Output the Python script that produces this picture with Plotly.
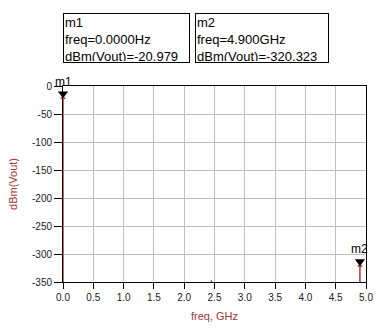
import plotly.graph_objects as go

# ---- data ----
freq_ghz = [0.0, 2.45, 4.9]
dbm_vout = [-20.979, -347.0, -320.323]
floor_dbm = -350

x_tick_vals = [0.0, 0.5, 1.0, 1.5, 2.0, 2.5, 3.0, 3.5, 4.0, 4.5, 5.0]
x_tick_text = ["0.0", "0.5", "1.0", "1.5", "2.0", "2.5", "3.0", "3.5", "4.0", "4.5", "5.0"]
y_tick_vals = [0, -50, -100, -150, -200, -250, -300, -350]
y_tick_text = ["0", "-50", "-100", "-150", "-200", "-250", "-300", "-350"]

marker_names = ["m1", "m2"]
marker_freq = [0.0, 4.9]
marker_val = [-20.979, -320.323]
marker_freq_text = ["freq=0.0000Hz", "freq=4.900GHz"]
marker_val_text = ["dBm(Vout)=-20.979", "dBm(Vout)=-320.323"]

RED = "#b03434"
TITLE_RED = "#a03535"
FONT = "Arial, Liberation Sans, sans-serif"

# spectral lines from the floor up to each value
xs, ys = [], []
for f, v in zip(freq_ghz, dbm_vout):
    xs += [f, f, None]
    ys += [floor_dbm, v, None]

fig = go.Figure()
fig.add_trace(go.Scatter(x=xs, y=ys, mode="lines",
                         line=dict(color=RED, width=1.5),
                         hoverinfo="skip", showlegend=False))
# small red arrow tips at line tops
fig.add_trace(go.Scatter(x=marker_freq, y=marker_val, mode="markers",
                         marker=dict(symbol="triangle-up", size=5, color=RED),
                         cliponaxis=False, showlegend=False, hoverinfo="skip"))
# black marker triangles sitting just above the points
fig.add_trace(go.Scatter(x=marker_freq, y=marker_val, mode="markers",
                         marker=dict(symbol="triangle-up", angle=180, size=9,
                                     standoff=4, color="black"),
                         cliponaxis=False, showlegend=False, hoverinfo="skip"))

annotations = []
for name, f, v in zip(marker_names, marker_freq, marker_val):
    annotations.append(dict(x=f, y=v, xref="x", yref="y", text=name,
                            showarrow=False, yanchor="bottom", xanchor="center",
                            font=dict(size=12, color="black", family=FONT),
                            yshift=7))

box_x = [0.0, 0.4345]
box_w = [123, 130]
for i in range(len(marker_names)):
    annotations.append(dict(
        x=box_x[i], y=1.3706, xref="paper", yref="paper",
        xanchor="left", yanchor="top", align="left", valign="top",
        text=marker_names[i] + "<br>" + marker_freq_text[i] + "<br>" + marker_val_text[i],
        showarrow=False, bordercolor="black", borderwidth=1, borderpad=1,
        width=box_w[i], height=46,
        font=dict(size=13, color="black", family=FONT)))

fig.update_layout(
    width=392, height=333,
    margin=dict(l=53, r=26, t=86, b=50),
    paper_bgcolor="white", plot_bgcolor="white",
    font=dict(family=FONT, size=10, color="#202020"),
    annotations=annotations,
    xaxis=dict(range=[0, 5], tickvals=x_tick_vals, ticktext=x_tick_text,
               ticks="outside", ticklen=6, tickcolor="black",
               showgrid=True, gridcolor="#c0c0c0", gridwidth=1,
               showline=True, linecolor="black", linewidth=1, mirror=True,
               zeroline=False, layer="below traces",
               title=dict(text="freq, GHz", font=dict(size=11, color=TITLE_RED),
                          standoff=10)),
    yaxis=dict(range=[-350, 0], tickvals=y_tick_vals, ticktext=y_tick_text,
               ticks="outside", ticklen=8, tickcolor="black",
               showgrid=True, gridcolor="#c0c0c0", gridwidth=1,
               showline=True, linecolor="black", linewidth=1, mirror=True,
               zeroline=False, layer="below traces",
               title=dict(text="dBm(Vout)", font=dict(size=11, color=TITLE_RED),
                          standoff=12)),
)

fig.write_html("out.html")
